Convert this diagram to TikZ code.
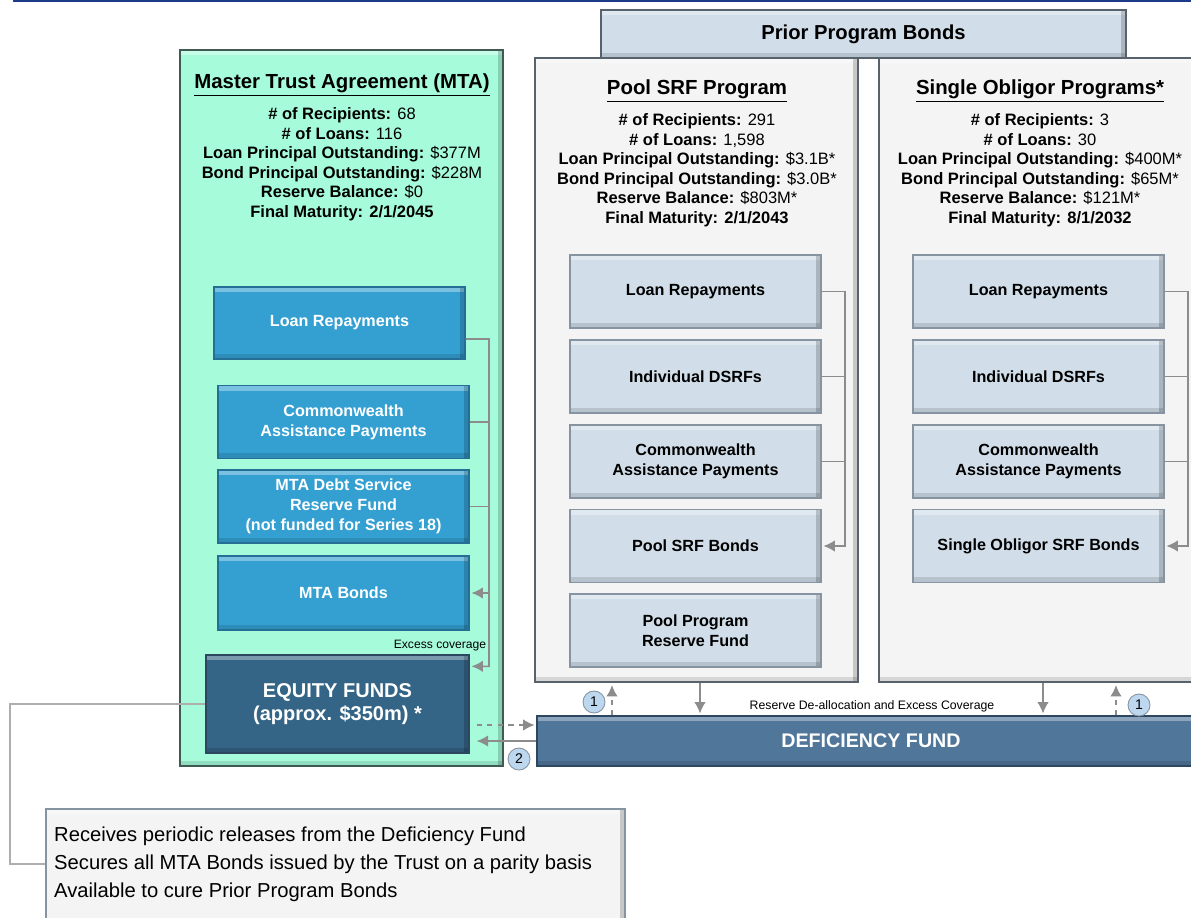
\documentclass[tikz,border=0pt]{standalone}
\usepackage{fontspec}
\setmainfont{Liberation Sans}
\usetikzlibrary{arrows.meta}
\definecolor{myMint}{HTML}{A6FCDA}
\definecolor{myMintEdge}{HTML}{3F5A52}
\definecolor{myBlue}{HTML}{34A0D2}
\definecolor{myBlueEdge}{HTML}{256F96}
\definecolor{myNavy}{HTML}{346486}
\definecolor{myPale}{HTML}{D1DEE9}
\definecolor{myPaleEdge}{HTML}{8693A0}
\definecolor{myPanel}{HTML}{F4F4F4}
\definecolor{myPanelEdge}{HTML}{58626C}
\definecolor{myFund}{HTML}{50769A}
\definecolor{myFundEdge}{HTML}{2D4760}
\definecolor{myBubble}{HTML}{BDD7EE}
\definecolor{myArrow}{HTML}{8C8C8C}
\definecolor{myRule}{HTML}{1C3A8A}

\begin{document}
\begin{tikzpicture}[x=0.02cm, y=-0.02cm, >={Latex[length=6.5pt,width=6.5pt]}]

  \tikzstyle{bevel}=[path picture={
    \fill[white, opacity=0.35] (path picture bounding box.north west) rectangle ([yshift=-3pt]path picture bounding box.north east);
    \fill[black, opacity=0.18] ([xshift=-3pt]path picture bounding box.north east) rectangle (path picture bounding box.south east);
    \fill[black, opacity=0.12] (path picture bounding box.south west) rectangle ([yshift=3pt]path picture bounding box.south east);}]
  \tikzstyle{P}=[rectangle, bevel, fill=myPanel, draw=myPanelEdge, line width=1.5pt, inner sep=0pt]
  \tikzstyle{M}=[P, fill=myMint, draw=myMintEdge]
  \tikzstyle{B}=[rectangle, bevel, fill=myBlue, draw=myBlueEdge, line width=0.8pt, text=white, font=\fontsize{9.2}{11.3}\selectfont\bfseries, align=center, minimum width=5.02cm, minimum height=1.46cm, inner sep=1pt]
  \tikzstyle{G}=[B, fill=myPale, draw=myPaleEdge, text=black]
  \tikzstyle{H}=[font=\fontsize{11.6}{13}\selectfont\bfseries]
  \tikzstyle{S}=[align=center, font=\fontsize{9.4}{11.1}\selectfont]
  \tikzstyle{N}=[circle, fill=myBubble, draw=myPaleEdge, line width=0.5pt, minimum size=0.44cm, inner sep=0pt, font=\fontsize{8}{8}\selectfont]
  \tikzstyle{L}=[myArrow, line width=0.9pt]
  \tikzstyle{A}=[L, ->, shorten >=1pt]

  \useasboundingbox (0,0) rectangle (1191,917);
  \draw[myRule, line width=1.2pt] (13,1) -- (1191,1);

  \node[P, fill=myPale, minimum width=10.5cm, minimum height=0.96cm, font=\fontsize{11.5}{13}\selectfont\bfseries] at (863.5,34) (prior) {Prior Program Bonds};
  \node[P, minimum width=6.46cm, minimum height=12.48cm] at (696.5,370) (pool) {};
  \node[P, minimum width=6.46cm, minimum height=12.48cm] at (1040.5,370) (single) {};
  \node[M, minimum width=6.46cm, minimum height=14.32cm] at (341.5,408) (mta) {};

  \node[H] at (342,85) (mtaTitle) {\underline{Master Trust Agreement (MTA)}};
  \node[H] at (697,91) (poolTitle) {\underline{Pool SRF Program}};
  \node[H] at (1040,91) (singleTitle) {\underline{Single Obligor Programs*}};

  \node[S] at (342,164) (mtaStats) {\textbf{\# of Recipients:} 68\\ \textbf{\# of Loans:} 116\\ \textbf{Loan Principal Outstanding:} \$377M\\ \textbf{Bond Principal Outstanding:} \$228M\\ \textbf{Reserve Balance:} \$0\\ \textbf{Final Maturity: 2/1/2045}};
  \node[S] at (697,170) (poolStats) {\textbf{\# of Recipients:} 291\\ \textbf{\# of Loans:} 1,598\\ \textbf{Loan Principal Outstanding:} \$3.1B*\\ \textbf{Bond Principal Outstanding:} \$3.0B*\\ \textbf{Reserve Balance:} \$803M*\\ \textbf{Final Maturity: 2/1/2043}};
  \node[S] at (1040,170) (singleStats) {\textbf{\# of Recipients:} 3\\ \textbf{\# of Loans:} 30\\ \textbf{Loan Principal Outstanding:} \$400M*\\ \textbf{Bond Principal Outstanding:} \$65M*\\ \textbf{Reserve Balance:} \$121M*\\ \textbf{Final Maturity: 8/1/2032}};

  \node[B, minimum height=1.44cm] at (339.5,323) (mtaLoan) {Loan Repayments};
  \node[B] at (343.5,422) (mtaCap) {Commonwealth\\Assistance Payments};
  \node[B] at (343.5,506.5) (mtaDsrf) {MTA Debt Service\\Reserve Fund\\(not funded for Series 18)};
  \node[B, minimum height=1.48cm] at (343.5,593) (mtaBond) {MTA Bonds};
  \node[B, fill=myNavy, draw=myFundEdge, minimum width=5.26cm, minimum height=1.96cm, font=\fontsize{11.4}{13.2}\selectfont\bfseries] at (337.5,704) (equity) {EQUITY FUNDS\\(approx. \$350m) *};

  \node[G] at (695.5,291.5) (poolLoan) {Loan Repayments};
  \node[G] at (695.5,376.5) (poolDsrf) {Individual DSRFs};
  \node[G] at (695.5,461.5) (poolCap) {Commonwealth\\Assistance Payments};
  \node[G] at (695.5,546) (poolBond) {Pool SRF Bonds};
  \node[G] at (695.5,630.5) (poolRes) {Pool Program\\Reserve Fund};

  \node[G] at (1038.5,291.5) (singleLoan) {Loan Repayments};
  \node[G] at (1038.5,376.5) (singleDsrf) {Individual DSRFs};
  \node[G] at (1038.5,461.5) (singleCap) {Commonwealth\\Assistance Payments};
  \node[G] at (1038.5,546) (singleBond) {Single Obligor SRF Bonds};

  \node[B, fill=myFund, draw=myFundEdge, minimum width=13.36cm, minimum height=1cm, font=\fontsize{11.2}{13}\selectfont\bfseries] at (871,741) (fund) {DEFICIENCY FUND};

  \node[P, draw=myPaleEdge, minimum width=11.58cm, minimum height=2.42cm] at (335.5,869.5) (note) {};
  \node[align=left, anchor=west, font=\fontsize{11.5}{15.9}\selectfont] at (48,864) (noteText) {Receives periodic releases from the Deficiency Fund\\Secures all MTA Bonds issued by the Trust on a parity basis\\Available to cure Prior Program Bonds};

  \node[N] at (594,702) (oneA) {1};
  \node[N] at (1139,705) (oneB) {1};
  \node[N] at (519,759) (two) {2};

  \node[font=\fontsize{6.9}{8}\selectfont] at (440,646) (excess) {Excess coverage};
  \node[font=\fontsize{7}{8}\selectfont] at (872,706) (dealloc) {Reserve De-allocation and Excess Coverage};

  % MTA flows
  \coordinate (mtaBus) at (489,339);
  \draw[A] ([yshift=-0.32cm]mtaLoan.east) -- (mtaBus) |- ([yshift=-0.24cm]equity.north east);
  \draw[L] (mtaCap.east) -- (mtaCap.east -| mtaBus);
  \draw[L] (mtaDsrf.east) -- (mtaDsrf.east -| mtaBus);
  \draw[A] (mtaBond.east -| mtaBus) -- (mtaBond.east);

  % pool flows
  \coordinate (poolBus) at (845,292);
  \draw[A] (poolLoan.east) -| (poolBus |- poolBond.east) -- (poolBond.east);
  \draw[L] (poolDsrf.east) -- (poolDsrf.east -| poolBus);
  \draw[L] (poolCap.east) -- (poolCap.east -| poolBus);

  % single obligor flows
  \coordinate (singleBus) at (1188,292);
  \draw[A] (singleLoan.east) -| (singleBus |- singleBond.east) -- (singleBond.east);
  \draw[L] (singleDsrf.east) -- (singleDsrf.east -| singleBus);
  \draw[L] (singleCap.east) -- (singleCap.east -| singleBus);

  % deficiency fund
  \coordinate (colA) at (612,0);
  \coordinate (colB) at (700,0);
  \coordinate (colC) at (1043,0);
  \coordinate (colD) at (1116,0);
  \draw[A, dashed] (fund.north -| colA) -- (pool.south -| colA);
  \draw[A] (pool.south -| colB) -- (fund.north -| colB);
  \draw[A] (single.south -| colC) -- (fund.north -| colC);
  \draw[A, dashed] (fund.north -| colD) -- (single.south -| colD);

  \coordinate (rowA) at (0,725);
  \coordinate (rowB) at (0,741);
  \draw[A, dashed, shorten <=0.14cm] (equity.east |- rowA) -- (fund.west |- rowA);
  \draw[A, shorten >=0.14cm] (fund.west |- rowB) -- (equity.east |- rowB);

  \coordinate (callTurn) at (10,704);
  \draw[myArrow!70, line width=0.6pt] (equity.west) -- (callTurn) |- ([yshift=0.11cm]note.west);

\end{tikzpicture}
\end{document}
